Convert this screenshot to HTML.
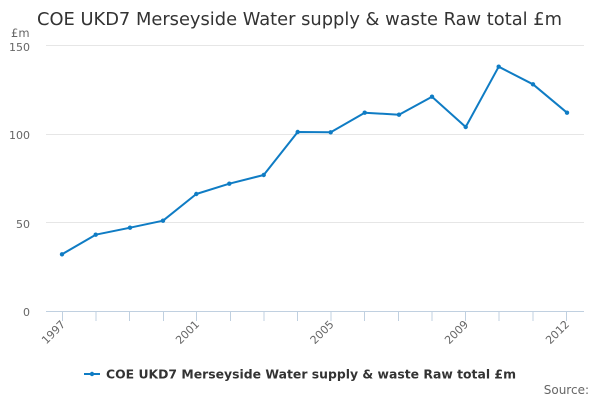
<!DOCTYPE html>
<html><head><meta charset="utf-8"><style>
html,body{margin:0;padding:0;background:#fff;}
svg{display:block;font-family:"DejaVu Sans","Liberation Sans",sans-serif;}
</style></head><body>
<svg width="600" height="400" viewBox="0 0 600 400" xmlns="http://www.w3.org/2000/svg">
<rect width="600" height="400" fill="#fff"/>
<text x="37" y="25" font-size="17.8" fill="#333" textLength="525" lengthAdjust="spacingAndGlyphs">COE UKD7 Merseyside Water supply &amp; waste Raw total £m</text>
<text x="11" y="37" font-size="11.5" fill="#666">£m</text>
<g stroke="#e6e6e6" stroke-width="1">
<line x1="46" y1="45.5" x2="584" y2="45.5"/>
<line x1="46" y1="134.5" x2="584" y2="134.5"/>
<line x1="46" y1="222.5" x2="584" y2="222.5"/>
</g>
<g font-size="11" fill="#666" text-anchor="end">
<text x="30" y="51">150</text>
<text x="30" y="139">100</text>
<text x="30" y="228">50</text>
<text x="30" y="316">0</text>
</g>
<line x1="46" y1="311.5" x2="584" y2="311.5" stroke="#c0d0e0" stroke-width="1"/>
<g stroke="#c0d0e0" stroke-width="1">
<line x1="62.5" y1="311" x2="62.5" y2="321"/>
<line x1="96" y1="311" x2="96" y2="321"/>
<line x1="129.5" y1="311" x2="129.5" y2="321"/>
<line x1="163.5" y1="311" x2="163.5" y2="321"/>
<line x1="196.5" y1="311" x2="196.5" y2="321"/>
<line x1="230.5" y1="311" x2="230.5" y2="321"/>
<line x1="264" y1="311" x2="264" y2="321"/>
<line x1="297.5" y1="311" x2="297.5" y2="321"/>
<line x1="331" y1="311" x2="331" y2="321"/>
<line x1="364.5" y1="311" x2="364.5" y2="321"/>
<line x1="398.5" y1="311" x2="398.5" y2="321"/>
<line x1="432" y1="311" x2="432" y2="321"/>
<line x1="465.5" y1="311" x2="465.5" y2="321"/>
<line x1="499" y1="311" x2="499" y2="321"/>
<line x1="533" y1="311" x2="533" y2="321"/>
<line x1="566.5" y1="311" x2="566.5" y2="321"/>
</g>
<g font-size="11" fill="#666" text-anchor="end">
<text transform="translate(66,325) rotate(-45)">1997</text>
<text transform="translate(200,325) rotate(-45)">2001</text>
<text transform="translate(334.5,325) rotate(-45)">2005</text>
<text transform="translate(469,325) rotate(-45)">2009</text>
<text transform="translate(570,325) rotate(-45)">2012</text>
</g>
<polyline fill="none" stroke="#0f7cc4" stroke-width="2" stroke-linejoin="round" points="62,254.3 95.7,234.7 130,227.7 163,220.7 196.3,194 229.3,183.7 263.7,175 297.7,132 330.7,132.3 364.7,112.7 399,114.7 432,96.7 465.7,127 498.7,66.7 533,84.3 567,112.7"/>
<g fill="#0f7cc4">
<circle cx="62" cy="254.3" r="2.2"/><circle cx="95.7" cy="234.7" r="2.2"/><circle cx="130" cy="227.7" r="2.2"/><circle cx="163" cy="220.7" r="2.2"/><circle cx="196.3" cy="194" r="2.2"/><circle cx="229.3" cy="183.7" r="2.2"/><circle cx="263.7" cy="175" r="2.2"/><circle cx="297.7" cy="132" r="2.2"/><circle cx="330.7" cy="132.3" r="2.2"/><circle cx="364.7" cy="112.7" r="2.2"/><circle cx="399" cy="114.7" r="2.2"/><circle cx="432" cy="96.7" r="2.2"/><circle cx="465.7" cy="127" r="2.2"/><circle cx="498.7" cy="66.7" r="2.2"/><circle cx="533" cy="84.3" r="2.2"/><circle cx="567" cy="112.7" r="2.2"/>
</g>
<line x1="84" y1="374" x2="100" y2="374" stroke="#0f7cc4" stroke-width="2"/>
<circle cx="92" cy="374" r="2.2" fill="#0f7cc4"/>
<text x="106" y="378.5" font-size="12.6" font-weight="bold" fill="#333" textLength="410" lengthAdjust="spacingAndGlyphs">COE UKD7 Merseyside Water supply &amp; waste Raw total £m</text>
<text x="589" y="394" font-size="12" fill="#666" text-anchor="end">Source:</text>
</svg>
</body></html>
